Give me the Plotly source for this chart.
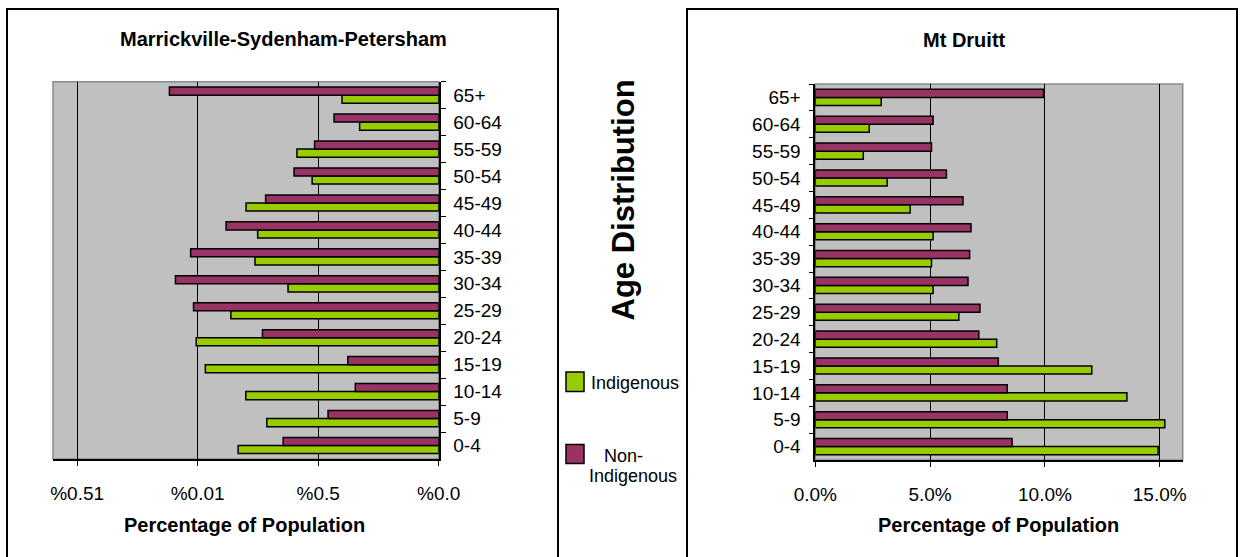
import plotly.graph_objects as go

# Age groups, bottom to top
age_groups = ["0-4", "5-9", "10-14", "15-19", "20-24", "25-29", "30-34",
              "35-39", "40-44", "45-49", "50-54", "55-59", "60-64", "65+"]

# Marrickville-Sydenham-Petersham (% of population)
marrickville_indigenous = [8.32, 7.13, 8.00, 9.68, 10.06, 8.62, 6.25,
                           7.62, 7.51, 7.99, 5.25, 5.88, 3.28, 4.01]
marrickville_non_indigenous = [6.45, 4.59, 3.46, 3.77, 7.31, 10.17, 10.92,
                               10.29, 8.82, 7.18, 6.00, 5.15, 4.34, 11.17]

# Mt Druitt (% of population)
druitt_indigenous = [14.93, 15.22, 13.57, 12.04, 7.90, 6.25, 5.13,
                     5.06, 5.13, 4.13, 3.13, 2.09, 2.35, 2.87]
druitt_non_indigenous = [8.57, 8.36, 8.36, 7.97, 7.12, 7.17, 6.65,
                         6.72, 6.78, 6.43, 5.71, 5.06, 5.13, 9.94]

tick_values = [0, 5, 10, 15]
left_tick_text = ["%0.0", "%0.5", "%0.01", "%0.51"]
right_tick_text = ["0.0%", "5.0%", "10.0%", "15.0%"]

GREEN = "#99CC00"
PLUM = "#993366"
FONT = "Arial, Liberation Sans, sans-serif"
W, H = 1240, 557


def px(x):
    return x / W


def py(y):
    return 1 - y / H


fig = go.Figure()

bar_line = dict(color="black", width=1.5)
fig.add_trace(go.Bar(y=age_groups, x=marrickville_indigenous, orientation="h",
                     marker=dict(color=GREEN, line=bar_line),
                     name="Indigenous", xaxis="x", yaxis="y"))
fig.add_trace(go.Bar(y=age_groups, x=marrickville_non_indigenous, orientation="h",
                     marker=dict(color=PLUM, line=bar_line),
                     name="Non-Indigenous", xaxis="x", yaxis="y"))
fig.add_trace(go.Bar(y=age_groups, x=druitt_indigenous, orientation="h",
                     marker=dict(color=GREEN, line=bar_line),
                     name="Indigenous", xaxis="x2", yaxis="y2"))
fig.add_trace(go.Bar(y=age_groups, x=druitt_non_indigenous, orientation="h",
                     marker=dict(color=PLUM, line=bar_line),
                     name="Non-Indigenous", xaxis="x2", yaxis="y2"))

common_x = dict(
    automargin=False,
    showgrid=True, gridcolor="black", gridwidth=1.4, zeroline=False,
    showline=True, linecolor="black", linewidth=1.6,
    ticks="outside", ticklen=5, tickcolor="black", tickwidth=1.4,
    tickvals=tick_values, tickfont=dict(family=FONT, size=19, color="black"),
    ticklabelstandoff=11, fixedrange=True,
)
common_y = dict(
    automargin=False,
    type="category", categoryorder="array", categoryarray=age_groups,
    showgrid=False, showline=True, linecolor="black", linewidth=1.6,
    ticks="outside", ticklen=5, tickcolor="black", tickwidth=1.4,
    tickson="boundaries", tickfont=dict(family=FONT, size=19, color="black"),
    ticklabelstandoff=9, fixedrange=True,
)

fig.update_layout(
    width=W, height=H, autosize=False,
    margin=dict(l=0, r=0, t=0, b=0, autoexpand=False),
    paper_bgcolor="white", plot_bgcolor="#C0C0C0",
    barmode="group", bargap=0.40, bargroupgap=0,
    showlegend=False,
    font=dict(family=FONT, color="black"),
    xaxis=dict(common_x, domain=[px(53), px(438.7)], range=[16, 0],
               ticktext=left_tick_text, anchor="y"),
    yaxis=dict(common_y, domain=[py(459), py(81.7)], side="right", anchor="x"),
    xaxis2=dict(common_x, domain=[px(815.3), px(1182.7)], range=[0, 16],
                ticktext=right_tick_text, anchor="y2"),
    yaxis2=dict(common_y, domain=[py(460), py(84)], side="left", anchor="x2"),
)

shapes = []
# outer frames of the two chart panels
for x0, x1 in [(7, 558), (687, 1237)]:
    shapes.append(dict(type="rect", xref="paper", yref="paper",
                       x0=px(x0), x1=px(x1), y0=-0.02, y1=py(9),
                       line=dict(color="black", width=2), fillcolor="rgba(0,0,0,0)"))
# plot area borders
for xr, yr in [("x domain", "y domain"), ("x2 domain", "y2 domain")]:
    shapes.append(dict(type="rect", xref=xr, yref=yr, x0=0, x1=1, y0=0, y1=1,
                       line=dict(color="#8a8a8a", width=1.5), layer="below"))
# legend keys
for y0, y1, c in [(372, 391.5, GREEN), (444.5, 463.5, PLUM)]:
    shapes.append(dict(type="rect", xref="paper", yref="paper",
                       x0=px(566), x1=px(584), y0=py(y1), y1=py(y0),
                       fillcolor=c, line=dict(color="black", width=1.5)))
fig.update_layout(shapes=shapes)

annotations = [
    dict(text="<b>Marrickville-Sydenham-Petersham</b>", x=px(283), y=py(39),
         font=dict(size=20)),
    dict(text="<b>Mt Druitt</b>", x=px(964), y=py(40), font=dict(size=20)),
    dict(text="<b>Percentage of Population</b>", x=px(244), y=py(525),
         font=dict(size=20)),
    dict(text="<b>Percentage of Population</b>", x=px(998), y=py(525),
         font=dict(size=20)),
    dict(text="<b>Age Distribution</b>", x=px(623), y=py(200.5),
         textangle=-90, font=dict(size=31)),
    dict(text="Indigenous", x=px(589), y=py(383), xanchor="left",
         font=dict(size=18)),
    dict(text="Non-", x=px(623.5), y=py(456), font=dict(size=18)),
    dict(text="Indigenous", x=px(633), y=py(476), font=dict(size=18)),
]
for a in annotations:
    a.setdefault("xref", "paper")
    a.setdefault("yref", "paper")
    a.setdefault("showarrow", False)
    a.setdefault("xanchor", "center")
    a.setdefault("yanchor", "middle")
    a["font"] = dict(family=FONT, color="black", **a["font"])
fig.update_layout(annotations=annotations)

fig.write_html("out.html")
